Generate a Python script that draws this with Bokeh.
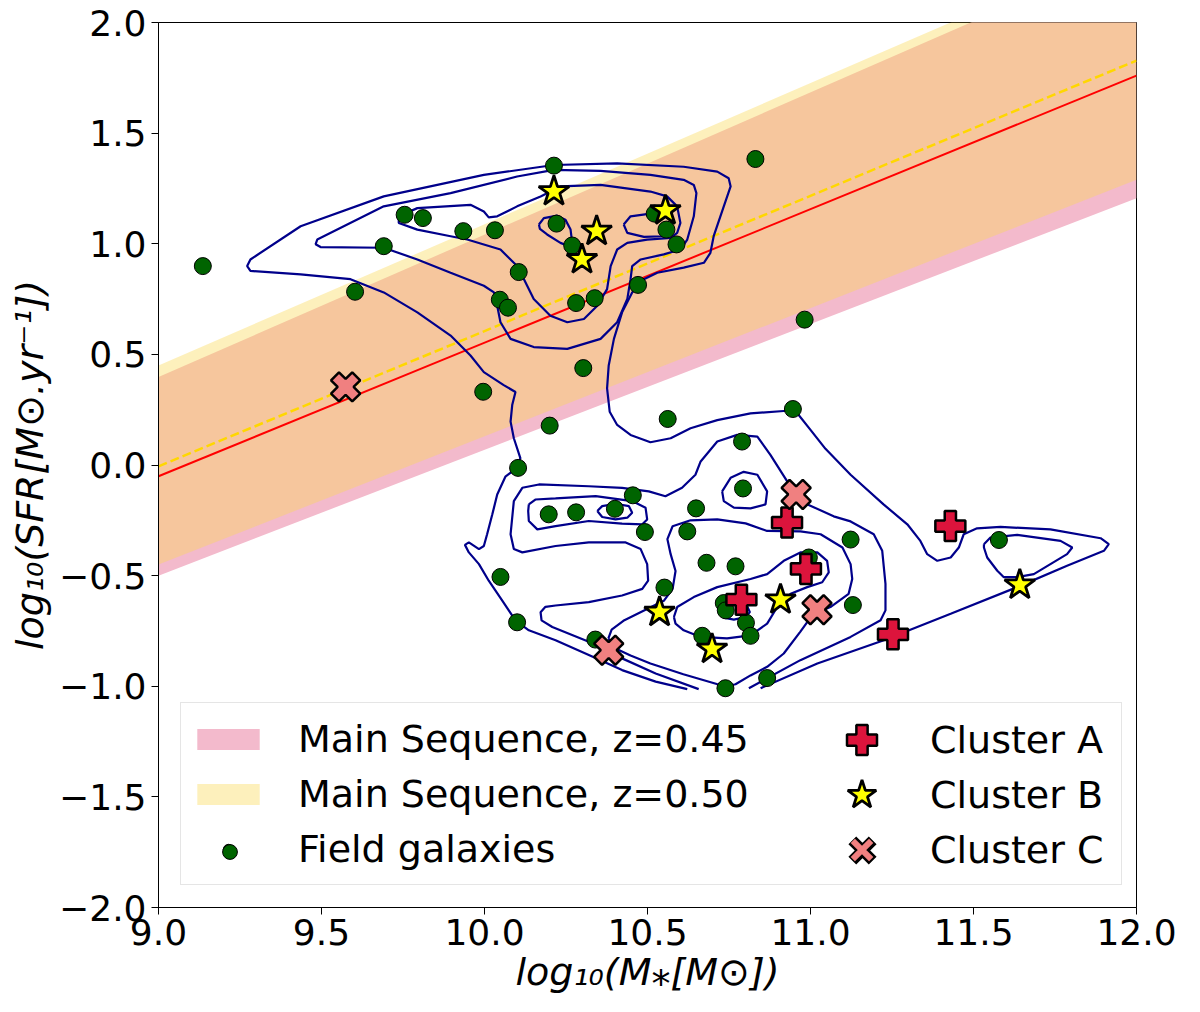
import numpy as np
from bokeh.plotting import figure
from bokeh.models import Legend, LegendItem, FixedTicker, CustomJSTickFormatter, Range1d
from bokeh.embed import file_html
from bokeh.resources import INLINE

# ---------------- axes ----------------
x_ticks = [9.0, 9.5, 10.0, 10.5, 11.0, 11.5, 12.0]
y_ticks = [-2.0, -1.5, -1.0, -0.5, 0.0, 0.5, 1.0, 1.5, 2.0]

# ---------------- main sequences (values at log M = 9 and 12) ----------------
ms_x = [9.0, 12.0]
ms045_mid = [-0.051, 1.760]
ms045_low = [-0.500, 1.206]
ms045_high = [0.398, 2.327]
ms050_mid = [-0.006, 1.828]
ms050_low = [-0.450, 1.289]
ms050_high = [0.450, 2.364]

# ---------------- galaxies ----------------
field_mass = [9.136, 9.755, 9.811, 9.691, 9.935, 10.032, 10.213, 10.221, 10.269, 10.105,
              9.603, 10.047, 10.072, 10.281, 10.338, 10.303, 9.996, 10.200, 10.103, 10.831,
              10.522, 10.558, 10.589, 10.471, 10.982, 10.562, 10.946, 10.790, 10.793, 10.197,
              10.281, 10.400, 10.455, 10.492, 10.649, 10.622, 10.681, 10.770, 11.123, 10.049,
              10.552, 11.130, 10.100, 10.734, 10.740, 10.802, 10.816, 10.668, 10.340, 10.739,
              10.867, 10.995, 11.578]
field_sfr = [0.899, 1.131, 1.116, 0.989, 1.057, 1.061, 1.353, 1.091, 0.992, 0.872,
             0.783, 0.747, 0.711, 0.732, 0.754, 0.438, 0.331, 0.178, -0.013, 1.383,
             1.136, 1.064, 0.997, 0.814, 0.657, 0.208, 0.253, 0.106, -0.106, -0.223,
             -0.214, -0.198, -0.137, -0.303, -0.196, -0.300, -0.442, -0.458, -0.337, -0.506,
             -0.554, -0.633, -0.711, -0.624, -0.657, -0.713, -0.772, -0.772, -0.789, -1.009,
             -0.963, -0.418, -0.339]

clusterA_mass = [10.928, 10.986, 10.788, 11.253, 11.429]
clusterA_sfr = [-0.260, -0.470, -0.609, -0.765, -0.276]
clusterB_mass = [10.213, 10.299, 10.344, 10.555, 10.537, 10.698, 10.908, 11.642]
clusterB_sfr = [1.236, 0.929, 1.057, 1.150, -0.665, -0.832, -0.609, -0.542]
clusterC_mass = [9.574, 10.956, 11.020, 10.381]
clusterC_sfr = [0.353, -0.133, -0.654, -0.837]

# ---------------- density contours (mass, sfr) ----------------
kde_outer = [(10.622, -1.013), (10.525, -0.979), (10.422, -0.927), (10.320, -0.859), (10.218, -0.792),
             (10.136, -0.747), (10.095, -0.702), (10.054, -0.612), (10.013, -0.523), (9.983, -0.448),
             (9.952, -0.395), (9.940, -0.361), (9.952, -0.350), (9.983, -0.380), (9.998, -0.366),
             (10.008, -0.313), (10.024, -0.223), (10.039, -0.133), (10.064, -0.053), (10.100, -0.013),
             (10.110, 0.031), (10.090, 0.121), (10.080, 0.196), (10.085, 0.271), (10.095, 0.330),
             (10.059, 0.361), (9.998, 0.420), (9.957, 0.495), (9.896, 0.585), (9.794, 0.690),
             (9.691, 0.780), (9.589, 0.840), (9.436, 0.862), (9.282, 0.877), (9.272, 0.899),
             (9.282, 0.929), (9.436, 1.079), (9.691, 1.214), (9.998, 1.311), (10.213, 1.356),
             (10.407, 1.363), (10.611, 1.348), (10.714, 1.326), (10.749, 1.296), (10.755, 1.259),
             (10.734, 1.169), (10.703, 1.034), (10.693, 0.959), (10.673, 0.914), (10.611, 0.892),
             (10.530, 0.869), (10.489, 0.840), (10.453, 0.780), (10.422, 0.690), (10.397, 0.570),
             (10.381, 0.450), (10.376, 0.346), (10.384, 0.241), (10.407, 0.181), (10.448, 0.136),
             (10.509, 0.103), (10.571, 0.121), (10.632, 0.166), (10.714, 0.203), (10.816, 0.233),
             (10.918, 0.244), (10.954, 0.244), (11.000, 0.159), (11.046, 0.073), (11.123, -0.044),
             (11.224, -0.178), (11.297, -0.268), (11.337, -0.343), (11.358, -0.403), (11.389, -0.433),
             (11.430, -0.418), (11.455, -0.373), (11.470, -0.313), (11.511, -0.286), (11.583, -0.280),
             (11.736, -0.291), (11.890, -0.331), (11.915, -0.358), (11.900, -0.388), (11.787, -0.455),
             (11.634, -0.552), (11.430, -0.672), (11.225, -0.792), (11.021, -0.897), (10.847, -1.009)]

kde_second_low = [(10.657, -1.013), (10.525, -0.942), (10.422, -0.874), (10.320, -0.799), (10.208, -0.732),
                  (10.175, -0.702), (10.172, -0.665), (10.187, -0.641), (10.218, -0.635), (10.320, -0.620),
                  (10.422, -0.590), (10.484, -0.560), (10.502, -0.523), (10.499, -0.448), (10.479, -0.380),
                  (10.433, -0.350), (10.320, -0.350), (10.218, -0.366), (10.116, -0.395), (10.090, -0.380),
                  (10.080, -0.313), (10.090, -0.163), (10.116, -0.103), (10.167, -0.088), (10.320, -0.096),
                  (10.422, -0.103), (10.504, -0.119), (10.555, -0.141), (10.606, -0.103), (10.647, -0.044),
                  (10.663, 0.016), (10.714, 0.106), (10.775, 0.136), (10.837, 0.128), (10.877, 0.046),
                  (10.929, -0.075), (10.991, -0.178), (11.071, -0.232), (11.123, -0.255), (11.194, -0.313),
                  (11.220, -0.388), (11.230, -0.537), (11.230, -0.657), (11.215, -0.702), (11.123, -0.777),
                  (10.969, -0.882), (10.811, -1.009)]

kde_second_up = [(10.213, 1.334), (10.100, 1.304), (9.896, 1.229), (9.691, 1.169), (9.487, 1.019),
                 (9.482, 0.998), (9.497, 0.985), (9.691, 0.982), (9.794, 0.929), (9.896, 0.869),
                 (9.998, 0.810), (10.029, 0.780), (10.039, 0.720), (10.049, 0.645), (10.080, 0.570),
                 (10.151, 0.533), (10.254, 0.525), (10.356, 0.570), (10.407, 0.645), (10.438, 0.750),
                 (10.448, 0.840), (10.453, 0.899), (10.479, 0.929), (10.550, 0.952), (10.601, 0.974),
                 (10.622, 1.019), (10.642, 1.124), (10.650, 1.229), (10.642, 1.266), (10.611, 1.289),
                 (10.509, 1.311), (10.356, 1.329), (10.213, 1.334)]

kde_second_right = [(11.532, -0.358), (11.552, -0.328), (11.634, -0.316), (11.767, -0.343), (11.803, -0.373),
                    (11.787, -0.403), (11.736, -0.448), (11.685, -0.493), (11.634, -0.507), (11.593, -0.507),
                    (11.573, -0.478), (11.542, -0.418), (11.532, -0.373), (11.532, -0.358)]

kde_third_up = [(9.737, 1.124), (9.794, 1.161), (9.957, 1.176), (9.998, 1.146), (10.013, 1.119),
                (10.039, 1.124), (10.100, 1.169), (10.172, 1.214), (10.233, 1.259), (10.356, 1.266),
                (10.509, 1.236), (10.560, 1.214), (10.591, 1.169), (10.601, 1.094), (10.591, 1.049),
                (10.571, 1.026), (10.499, 1.019), (10.438, 1.004), (10.407, 0.974), (10.387, 0.899),
                (10.376, 0.795), (10.346, 0.720), (10.305, 0.660), (10.254, 0.645), (10.202, 0.675),
                (10.151, 0.750), (10.121, 0.840), (10.100, 0.899), (10.049, 0.974), (9.947, 1.019),
                (9.896, 1.034), (9.794, 1.064), (9.737, 1.094), (9.737, 1.124)]

kde_third_low = [(10.380, -0.784), (10.402, -0.829), (10.448, -0.861), (10.509, -0.897), (10.610, -0.946),
                 (10.715, -0.991), (10.742, -1.000), (10.770, -0.991), (10.816, -0.951), (10.867, -0.912),
                 (10.918, -0.852), (10.969, -0.753), (11.006, -0.677), (11.061, -0.642), (11.117, -0.582),
                 (11.128, -0.515), (11.123, -0.448), (11.098, -0.373), (11.031, -0.313), (10.969, -0.300),
                 (10.867, -0.298), (10.801, -0.264), (10.714, -0.246), (10.632, -0.250), (10.577, -0.277),
                 (10.561, -0.335), (10.571, -0.403), (10.586, -0.479), (10.577, -0.560), (10.550, -0.614),
                 (10.494, -0.654), (10.426, -0.704), (10.390, -0.744), (10.380, -0.784)]

kde_third_left = [(10.136, -0.178), (10.156, -0.156), (10.218, -0.151), (10.341, -0.141), (10.453, -0.163),
                  (10.494, -0.193), (10.499, -0.246), (10.484, -0.268), (10.422, -0.265), (10.320, -0.253),
                  (10.218, -0.276), (10.162, -0.291), (10.136, -0.253), (10.134, -0.208), (10.136, -0.178)]

kde_third_small = [(10.729, -0.119), (10.755, -0.058), (10.795, -0.031), (10.837, -0.044), (10.867, -0.119),
                   (10.862, -0.178), (10.816, -0.196), (10.765, -0.193), (10.734, -0.163), (10.729, -0.119)]

kde_fourth_up_left = [(10.167, 1.087), (10.182, 1.116), (10.223, 1.127), (10.248, 1.109), (10.264, 1.064),
                      (10.269, 1.004), (10.259, 0.989), (10.233, 1.004), (10.192, 1.042), (10.170, 1.067),
                      (10.167, 1.087)]

kde_fourth_up_right = [(10.427, 1.087), (10.448, 1.124), (10.509, 1.136), (10.560, 1.132), (10.576, 1.109),
                       (10.571, 1.057), (10.550, 1.034), (10.489, 1.031), (10.438, 1.049), (10.427, 1.087)]

kde_fourth_low = [(10.581, -0.687), (10.591, -0.642), (10.642, -0.597), (10.714, -0.552), (10.816, -0.515),
                  (10.867, -0.493), (10.918, -0.433), (10.969, -0.395), (11.021, -0.395), (11.051, -0.433),
                  (11.056, -0.485), (11.036, -0.530), (10.990, -0.552), (10.939, -0.582), (10.898, -0.642),
                  (10.867, -0.717), (10.816, -0.770), (10.744, -0.784), (10.663, -0.777), (10.611, -0.747),
                  (10.586, -0.717), (10.581, -0.687)]

kde_fourth_left = [(10.346, -0.208), (10.361, -0.186), (10.402, -0.175), (10.443, -0.186), (10.453, -0.216),
                   (10.438, -0.238), (10.402, -0.246), (10.361, -0.235), (10.346, -0.208)]

kde_fifth = [(10.724, -0.665), (10.739, -0.642), (10.770, -0.630), (10.806, -0.639), (10.814, -0.665),
             (10.801, -0.687), (10.765, -0.699), (10.734, -0.690), (10.724, -0.665)]

contours = [kde_outer, kde_second_low, kde_second_up, kde_second_right, kde_third_up, kde_third_low,
            kde_third_left, kde_third_small, kde_fourth_up_left, kde_fourth_up_right, kde_fourth_low,
            kde_fourth_left, kde_fifth]

legend_labels = ["Main Sequence, z=0.45", "Main Sequence, z=0.50", "Field galaxies",
                 "Cluster A", "Cluster B", "Cluster C"]

# ---------------- figure ----------------
FONT = "DejaVu Sans"
FS = "36px"
LFS = "38px"

p = figure(frame_width=978, frame_height=885,
           x_range=Range1d(9.0, 12.0), y_range=Range1d(-2.0, 2.0),
           output_backend="svg", toolbar_location=None,
           min_border_left=158, min_border_right=45, min_border_top=22, min_border_bottom=90)
p.xgrid.visible = False
p.ygrid.visible = False
p.outline_line_color = "black"
p.outline_line_width = 1
p.outline_line_alpha = 1
p.background_fill_color = "white"
p.border_fill_color = "white"

for ax in (p.xaxis[0], p.yaxis[0]):
    ax.axis_line_color = "black"
    ax.major_tick_line_color = "black"
    ax.major_tick_out = 7
    ax.major_tick_in = 0
    ax.minor_tick_out = 0
    ax.minor_tick_in = 0
    ax.major_label_text_font = FONT
    ax.major_label_text_font_size = FS
    ax.major_label_text_color = "black"
    ax.axis_label_text_font = FONT
    ax.axis_label_text_font_size = LFS
    ax.axis_label_text_font_style = "italic"
    ax.axis_label_text_color = "black"

p.xaxis.ticker = FixedTicker(ticks=x_ticks)
p.yaxis.ticker = FixedTicker(ticks=y_ticks)
p.xaxis.formatter = CustomJSTickFormatter(code="return tick.toFixed(1).replace('-', '\u2212');")
p.yaxis.formatter = CustomJSTickFormatter(code="return tick.toFixed(1).replace('-', '\u2212');")
p.xaxis.major_label_standoff = 4
p.xaxis.axis_label_standoff = 2
p.yaxis.major_label_standoff = 5
p.yaxis.axis_label_standoff = 4
p.xaxis.axis_label = "log\u2081\u2080(M\u204e[M\u2299])"
p.yaxis.axis_label = "log\u2081\u2080(SFR[M\u2299.yr\u207b\u00b9])"

# bands
band45 = p.varea(x=ms_x, y1=ms045_low, y2=ms045_high, fill_color="#F3BACC", fill_alpha=1.0)
band50 = p.varea(x=ms_x, y1=ms050_low, y2=ms050_high, fill_color="#FAD957", fill_alpha=0.4)
p.line(ms_x, ms050_mid, line_color="#FFD700", line_width=2.5, line_dash="9 4")
p.line(ms_x, ms045_mid, line_color="red", line_width=2)

# contours
p.multi_line(xs=[[pt[0] for pt in c] for c in contours],
             ys=[[pt[1] for pt in c] for c in contours],
             line_color="#00008B", line_width=2.2)

# points
field = p.scatter(field_mass, field_sfr, marker="circle", size=17,
                  fill_color="#006400", line_color="black", line_width=1)
cA = p.scatter(clusterA_mass, clusterA_sfr, marker="plus", size=30,
               fill_color="crimson", line_color="black", line_width=2.5)
cB = p.scatter(clusterB_mass, clusterB_sfr, marker="star", size=32,
               fill_color="yellow", line_color="black", line_width=2.8)
cC = p.scatter(clusterC_mass, clusterC_sfr, marker="plus", angle=np.pi / 4, size=30,
               fill_color="lightcoral", line_color="black", line_width=2.5)

# legend-only glyphs for the filled X (a single NaN point, never drawn in the plot)
cC_black = p.scatter(x=[np.nan], y=[np.nan], marker="x", size=10, line_color="black", line_width=11)
cC_fill = p.scatter(x=[np.nan], y=[np.nan], marker="x", size=10, line_color="lightcoral", line_width=6)


def add_legend(items, loc, gw, gh, standoff, label_width=20, label_height=20, padding=0,
               box=False, font_size=LFS):
    lg = Legend(items=items, location=loc, orientation="vertical",
                glyph_width=gw, glyph_height=gh, label_standoff=standoff,
                label_width=label_width, label_height=label_height,
                padding=padding, spacing=0, margin=0,
                label_text_font=FONT, label_text_font_size=font_size, label_text_color="black")
    if box:
        lg.border_line_color = "#cccccc"
        lg.border_line_width = 1
        lg.background_fill_color = "white"
        lg.background_fill_alpha = 0.8
    else:
        lg.border_line_alpha = 0
        lg.background_fill_alpha = 0
    p.add_layout(lg, "center")
    return lg


add_legend([LegendItem(label=legend_labels[0], renderers=[band45]),
            LegendItem(label=legend_labels[1], renderers=[band50]),
            LegendItem(label=legend_labels[2], renderers=[field])],
           (22, 22), 78, 26, 31, label_width=815, label_height=55, padding=8, box=True)
add_legend([LegendItem(label=" ", renderers=[field])], (53, 37), 37, 37, 0,
           label_width=1, label_height=37, font_size="1px")
add_legend([LegendItem(label=legend_labels[3], renderers=[cA])], (666, 130), 75, 75, 31,
           label_height=75)
add_legend([LegendItem(label=legend_labels[4], renderers=[cB])], (666, 75), 75, 75, 31,
           label_height=75)
add_legend([LegendItem(label=" ", renderers=[cC_black])], (668, 21), 72, 72, 0,
           label_width=1, label_height=72, font_size="1px")
add_legend([LegendItem(label=legend_labels[5], renderers=[cC_fill])], (671, 25), 65, 65, 36,
           label_height=65)

open("out.html", "w").write(file_html(p, INLINE))
